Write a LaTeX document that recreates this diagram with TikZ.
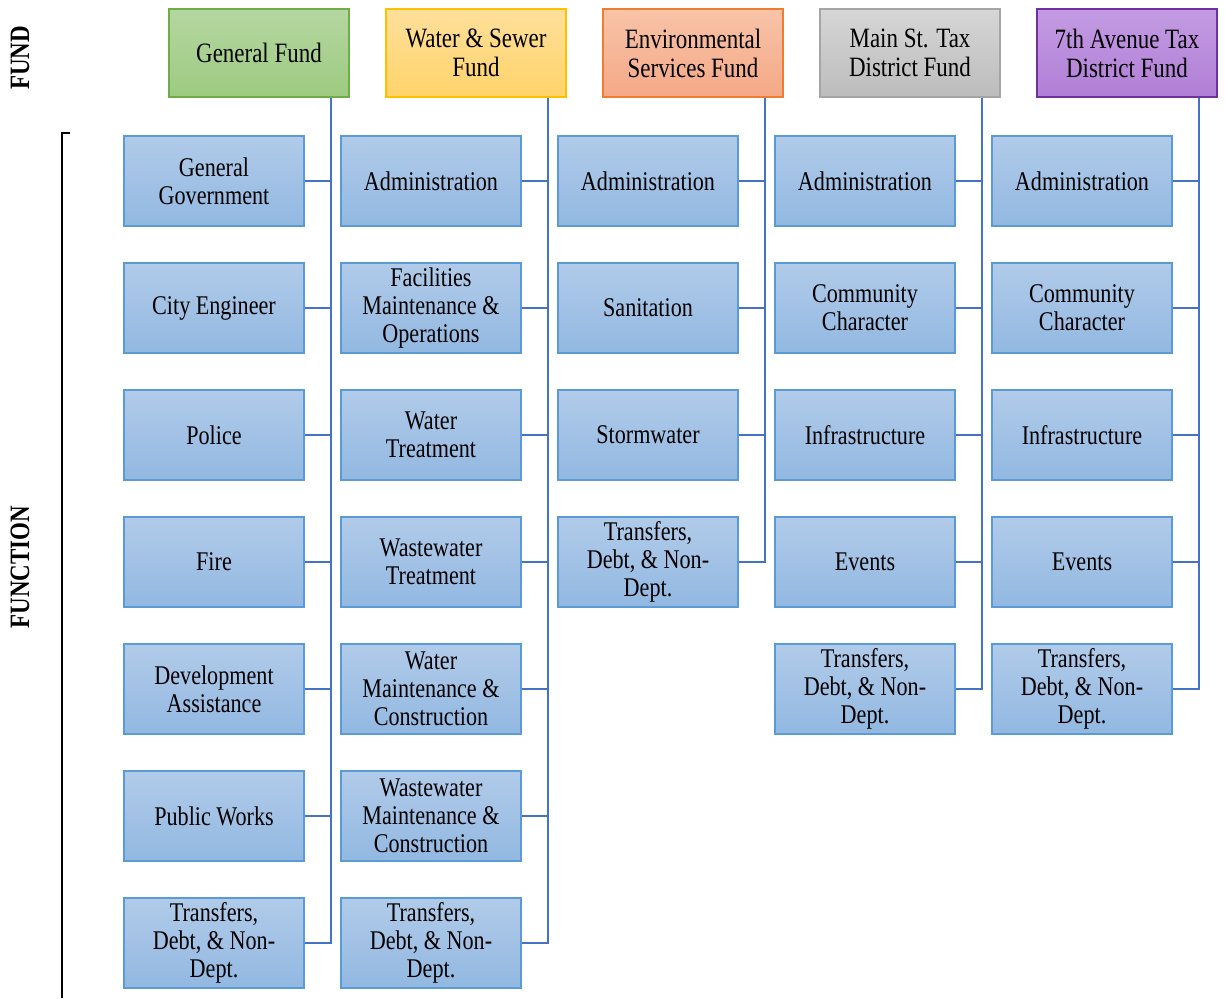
\documentclass[tikz,border=0pt]{standalone}
\usepackage{fontspec}
\setmainfont{Liberation Serif}[FakeStretch=0.82]
\usepackage{tikz}
\usetikzlibrary{positioning}

\definecolor{linkblue}{HTML}{4472C4}
\definecolor{funcedge}{HTML}{5B9BD5}
\definecolor{functop}{HTML}{B1CBE9}
\definecolor{funcbot}{HTML}{92B8E1}

\tikzset{
  fund/.style={draw, line width=1.5pt, minimum width=180pt, minimum height=88pt,
    inner sep=0pt, align=center, font=\fontsize{28}{29}\selectfont},
  func/.style={draw=funcedge, line width=1.5pt, top color=functop, bottom color=funcbot,
    minimum width=180pt, minimum height=90pt, inner sep=0pt, align=center,
    font=\fontsize{27}{28}\selectfont},
  link/.style={draw=linkblue, line width=1.5pt},
  side/.style={rotate=90, font=\fontsize{28}{29}\selectfont\bfseries}
}

\begin{document}
\begin{tikzpicture}[x=1pt,y=1pt,node distance=35.5pt]
  \useasboundingbox (0,0) rectangle (1225,998);

  % funds
  \node [fund, draw={rgb,255:red,112;green,173;blue,71},
    top color={rgb,255:red,181;green,214;blue,161}, bottom color={rgb,255:red,157;green,202;blue,128}]
    (gf) at (259,945) {General Fund};
  \node [fund, right=of gf, draw={rgb,255:red,255;green,192;blue,0},
    top color={rgb,255:red,255;green,224;blue,155}, bottom color={rgb,255:red,255;green,211;blue,106}]
    (wf) {Water \& Sewer\\Fund};
  \node [fund, right=of wf, draw={rgb,255:red,237;green,125;blue,49},
    top color={rgb,255:red,248;green,195;blue,168}, bottom color={rgb,255:red,244;green,169;blue,135}]
    (ef) {Environmental\\Services Fund};
  \node [fund, right=of ef, draw={rgb,255:red,165;green,165;blue,165},
    top color={rgb,255:red,214;green,214;blue,214}, bottom color={rgb,255:red,188;green,188;blue,188}]
    (mf) {Main St. Tax\\District Fund};
  \node [fund, right=of mf, draw={rgb,255:red,112;green,48;blue,160},
    top color={rgb,255:red,195;green,155;blue,227}, bottom color={rgb,255:red,177;green,127;blue,214}]
    (sf) {7th Avenue Tax\\District Fund};

  % side labels
  \node [side] (fundlbl) at (20,940) {FUND};
  \node [side] (funclbl) at (20,431) {FUNCTION};
  \draw [line width=1.5pt] (70,865) -- (62,865) -- (62,0);

  % general fund
  \node [func] (g1) at (214,817) {General\\Government};
  \node [func, below=of g1] (g2) {City Engineer};
  \node [func, below=of g2] (g3) {Police};
  \node [func, below=of g3] (g4) {Fire};
  \node [func, below=of g4] (g5) {Development\\Assistance};
  \node [func, below=of g5] (g6) {Public Works};
  \node [func, below=of g6] (g7) {Transfers,\\Debt, \& Non-\\Dept.};

  % water & sewer
  \node [func, right=of g1] (w1) {Administration};
  \node [func, below=of w1] (w2) {Facilities\\Maintenance \&\\Operations};
  \node [func, below=of w2] (w3) {Water\\Treatment};
  \node [func, below=of w3] (w4) {Wastewater\\Treatment};
  \node [func, below=of w4] (w5) {Water\\Maintenance \&\\Construction};
  \node [func, below=of w5] (w6) {Wastewater\\Maintenance \&\\Construction};
  \node [func, below=of w6] (w7) {Transfers,\\Debt, \& Non-\\Dept.};

  % environmental services
  \node [func, right=of w1] (e1) {Administration};
  \node [func, below=of e1] (e2) {Sanitation};
  \node [func, below=of e2] (e3) {Stormwater};
  \node [func, below=of e3] (e4) {Transfers,\\Debt, \& Non-\\Dept.};

  % main st.
  \node [func, right=of e1] (m1) {Administration};
  \node [func, below=of m1] (m2) {Community\\Character};
  \node [func, below=of m2] (m3) {Infrastructure};
  \node [func, below=of m3] (m4) {Events};
  \node [func, below=of m4] (m5) {Transfers,\\Debt, \& Non-\\Dept.};

  % 7th avenue
  \node [func, right=of m1] (s1) {Administration};
  \node [func, below=of s1] (s2) {Community\\Character};
  \node [func, below=of s2] (s3) {Infrastructure};
  \node [func, below=of s3] (s4) {Events};
  \node [func, below=of s4] (s5) {Transfers,\\Debt, \& Non-\\Dept.};

  % trunks
  \coordinate [xshift=26pt] (gt) at (g1.east);
  \coordinate [xshift=26pt] (wt) at (w1.east);
  \coordinate [xshift=26pt] (et) at (e1.east);
  \coordinate [xshift=26pt] (mt) at (m1.east);
  \coordinate [xshift=26pt] (st) at (s1.east);

  \draw [link] (gt |- gf.south) -- (gt |- g7.east) -- (g7.east);
  \draw [link] (g1.east) -- (g1.east -| gt);
  \draw [link] (g2.east) -- (g2.east -| gt);
  \draw [link] (g3.east) -- (g3.east -| gt);
  \draw [link] (g4.east) -- (g4.east -| gt);
  \draw [link] (g5.east) -- (g5.east -| gt);
  \draw [link] (g6.east) -- (g6.east -| gt);

  \draw [link] (wt |- wf.south) -- (wt |- w7.east) -- (w7.east);
  \draw [link] (w1.east) -- (w1.east -| wt);
  \draw [link] (w2.east) -- (w2.east -| wt);
  \draw [link] (w3.east) -- (w3.east -| wt);
  \draw [link] (w4.east) -- (w4.east -| wt);
  \draw [link] (w5.east) -- (w5.east -| wt);
  \draw [link] (w6.east) -- (w6.east -| wt);

  \draw [link] (et |- ef.south) -- (et |- e4.east) -- (e4.east);
  \draw [link] (e1.east) -- (e1.east -| et);
  \draw [link] (e2.east) -- (e2.east -| et);
  \draw [link] (e3.east) -- (e3.east -| et);

  \draw [link] (mt |- mf.south) -- (mt |- m5.east) -- (m5.east);
  \draw [link] (m1.east) -- (m1.east -| mt);
  \draw [link] (m2.east) -- (m2.east -| mt);
  \draw [link] (m3.east) -- (m3.east -| mt);
  \draw [link] (m4.east) -- (m4.east -| mt);

  \draw [link] (st |- sf.south) -- (st |- s5.east) -- (s5.east);
  \draw [link] (s1.east) -- (s1.east -| st);
  \draw [link] (s2.east) -- (s2.east -| st);
  \draw [link] (s3.east) -- (s3.east -| st);
  \draw [link] (s4.east) -- (s4.east -| st);
\end{tikzpicture}
\end{document}
